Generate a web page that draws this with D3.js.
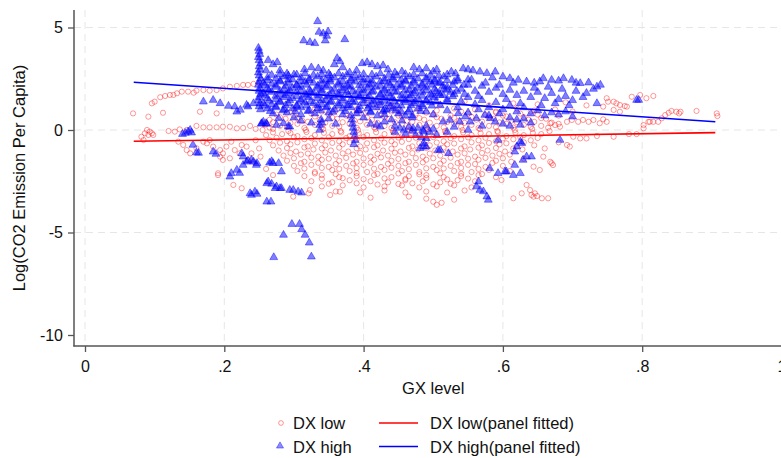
<!DOCTYPE html>
<html><head><meta charset="utf-8">
<script src="https://cdn.jsdelivr.net/npm/d3@7"></script>
<style>
body{margin:0;background:#fff}
svg{display:block}
text{font-family:"Liberation Sans",Arial,Helvetica,sans-serif}
</style>
</head><body>
<svg id="chart" width="781" height="458"></svg>
<script>
// ---------- axis ticks ----------
const xTicks=[0,0.2,0.4,0.6,0.8,1];
const xTickLabels=["0",".2",".4",".6",".8","1"];
const yTicks=[5,0,-5,-10];
const yTickLabels=["5","0","-5","-10"];
const xGrid=[0,0.2,0.4,0.6,0.8,1];
const yGrid=[5,0,-5];

// ---------- fitted lines ----------
const fitX=[0.07,0.905];
const lowFitY=[-0.55,-0.13];
const highFitY=[2.33,0.40];

// ---------- DX low (red circles) ----------
const lowLeft=[[0.069,0.81],[0.091,0.65],[0.112,0.84],[0.165,0.89],[0.189,0.81],
[0.096,1.3],[0.1,1.38],[0.108,1.6],[0.115,1.66],[0.122,1.71],[0.127,1.71],[0.132,1.79],[0.139,1.87],[0.148,1.87],[0.156,1.82],[0.16,1.92],[0.17,1.95],[0.179,1.92],[0.189,1.95],[0.198,2.03],[0.208,2.11],[0.218,2.15],[0.227,2.2],[0.234,2.2],[0.242,2.25],[0.25,2.3],
[0.089,0.0],[0.093,-0.08],[0.096,-0.16],[0.086,-0.16],[0.091,-0.24],[0.098,-0.24],[0.081,-0.33],[0.084,-0.49],
[0.12,-0.05],[0.129,-0.08],[0.136,0.03],[0.146,0.0],[0.16,0.2],[0.17,0.13],[0.179,0.13],[0.189,0.13],[0.198,0.16],[0.208,0.16],[0.218,0.08],[0.237,0.2],[0.227,0.1],[0.245,0.05],
[0.134,-0.57],[0.141,-0.73],[0.146,-0.98],[0.151,-1.14],[0.16,-0.89],[0.17,-0.57],[0.175,-0.65],[0.179,-0.49],[0.184,-0.81],[0.194,-0.98],[0.198,-1.14],[0.203,-0.81],[0.21,-0.57],[0.215,-0.98],[0.222,-1.14],[0.208,-1.38],[0.198,-1.46],[0.194,-1.3],[0.225,-0.73],[0.232,-0.81],[0.239,-1.14],[0.234,-1.46],[0.242,-1.55],[0.245,-0.5],[0.25,-0.9],[0.252,-1.3],
[0.191,-2.2],[0.225,-2.84],[0.191,-2.11],[0.213,-2.68],[0.299,-3.25],[0.321,-3.09],[0.366,-3.01],[0.323,-2.93],[0.352,-3.17],[0.26,-1.9],[0.27,-2.2]];

const lowMain=[
[0.405,1.3],[0.44,1.2],[0.47,1.35],[0.51,1.25],[0.545,1.4],[0.58,1.2],[0.615,1.3],[0.65,1.25],[0.69,1.35],[0.72,1.2],
[0.3,1.0],[0.33,1.05],[0.36,0.95],[0.39,1.0],[0.42,1.1],[0.45,0.95],[0.48,1.05],[0.505,0.95],[0.53,1.05],[0.56,1.0],[0.59,0.9],[0.62,1.05],[0.645,0.95],[0.675,1.0],[0.7,0.9],
[0.275,0.75],[0.3,0.7],[0.325,0.8],[0.35,0.75],[0.375,0.7],[0.4,0.8],[0.425,0.75],[0.45,0.7],[0.475,0.8],[0.5,0.75],[0.525,0.7],[0.55,0.8],[0.575,0.75],[0.6,0.7],[0.625,0.8],[0.65,0.75],[0.68,0.7],
[0.265,0.5],[0.288,0.55],[0.312,0.45],[0.337,0.5],[0.362,0.55],[0.387,0.45],[0.412,0.5],[0.437,0.55],[0.462,0.45],[0.487,0.5],[0.512,0.55],[0.537,0.45],[0.562,0.5],[0.587,0.55],[0.612,0.45],[0.637,0.5],[0.662,0.55],
[0.258,0.25],[0.28,0.2],[0.305,0.3],[0.33,0.25],[0.355,0.2],[0.38,0.3],[0.405,0.25],[0.43,0.2],[0.455,0.3],[0.48,0.25],[0.505,0.2],[0.53,0.3],[0.555,0.25],[0.58,0.2],[0.605,0.3],[0.63,0.25],[0.655,0.2],[0.68,0.3],
[0.255,0.0],[0.27,0.05],[0.292,-0.05],[0.317,0.0],[0.342,0.05],[0.367,-0.05],[0.392,0.0],[0.417,0.05],[0.442,-0.05],[0.467,0.0],[0.492,0.05],[0.517,-0.05],[0.542,0.0],[0.567,0.05],[0.592,-0.05],[0.617,0.0],[0.642,0.05],[0.667,-0.05],
[0.26,-0.25],[0.283,-0.2],[0.305,-0.3],[0.33,-0.25],[0.355,-0.2],[0.38,-0.3],[0.405,-0.25],[0.43,-0.2],[0.455,-0.3],[0.48,-0.25],[0.505,-0.2],[0.53,-0.3],[0.555,-0.25],[0.58,-0.2],[0.605,-0.3],[0.63,-0.25],[0.655,-0.2],
[0.265,-0.5],[0.29,-0.55],[0.315,-0.45],[0.34,-0.5],[0.365,-0.55],[0.39,-0.45],[0.415,-0.5],[0.44,-0.55],[0.465,-0.45],[0.49,-0.5],[0.515,-0.55],[0.54,-0.45],[0.565,-0.5],[0.59,-0.55],[0.615,-0.45],[0.64,-0.5],
[0.27,-0.75],[0.295,-0.7],[0.32,-0.8],[0.345,-0.75],[0.37,-0.7],[0.395,-0.8],[0.42,-0.75],[0.445,-0.7],[0.47,-0.8],[0.495,-0.75],[0.52,-0.7],[0.545,-0.8],[0.57,-0.75],[0.595,-0.7],[0.62,-0.8],[0.645,-0.75],
[0.278,-1.0],[0.303,-1.05],[0.328,-0.95],[0.353,-1.0],[0.378,-1.05],[0.403,-0.95],[0.428,-1.0],[0.453,-1.05],[0.478,-0.95],[0.503,-1.0],[0.528,-1.05],[0.553,-0.95],[0.578,-1.0],[0.603,-1.05],[0.628,-0.95],
[0.285,-1.25],[0.31,-1.2],[0.335,-1.3],[0.36,-1.25],[0.385,-1.2],[0.41,-1.3],[0.435,-1.25],[0.46,-1.2],[0.485,-1.3],[0.51,-1.25],[0.535,-1.2],[0.56,-1.3],[0.585,-1.25],[0.61,-1.2],
[0.29,-1.5],[0.315,-1.55],[0.34,-1.45],[0.365,-1.5],[0.39,-1.55],[0.415,-1.45],[0.44,-1.5],[0.465,-1.55],[0.49,-1.45],[0.515,-1.5],[0.54,-1.55],[0.565,-1.45],[0.59,-1.5],[0.612,-1.55],
[0.3,-1.75],[0.325,-1.7],[0.35,-1.8],[0.375,-1.75],[0.4,-1.7],[0.425,-1.8],[0.45,-1.75],[0.475,-1.7],[0.5,-1.8],[0.525,-1.75],[0.55,-1.7],[0.575,-1.8],[0.6,-1.75],
[0.305,-2.0],[0.33,-2.05],[0.355,-1.95],[0.38,-2.0],[0.405,-2.05],[0.43,-1.95],[0.455,-2.0],[0.48,-2.05],[0.505,-1.95],[0.53,-2.0],[0.555,-2.05],[0.58,-1.95],
[0.315,-2.25],[0.34,-2.2],[0.365,-2.3],[0.39,-2.25],[0.415,-2.2],[0.44,-2.3],[0.465,-2.25],[0.49,-2.2],[0.515,-2.3],[0.54,-2.25],[0.565,-2.2],[0.59,-2.3],
[0.325,-2.5],[0.355,-2.55],[0.38,-2.45],[0.41,-2.5],[0.435,-2.55],[0.46,-2.45],[0.485,-2.5],[0.51,-2.55],[0.535,-2.45],[0.56,-2.5],
[0.34,-2.75],[0.37,-2.7],[0.4,-2.8],[0.43,-2.75],[0.455,-2.7],[0.48,-2.8],[0.505,-2.75],[0.53,-2.7],[0.555,-2.8],
[0.36,-3.0],[0.395,-3.05],[0.43,-2.95],[0.46,-3.05],[0.49,-3.0],[0.52,-3.05],[0.545,-2.95],
[0.41,-3.3],[0.465,-3.25],[0.49,-3.35],[0.5,-3.5],[0.505,-3.65],[0.512,-3.55],[0.53,-3.4]];

const lowCore=[
[0.29,0.85],[0.34,0.9],[0.39,0.85],[0.44,0.9],[0.49,0.85],[0.54,0.9],[0.59,0.85],[0.64,0.9],
[0.28,0.62],[0.305,0.58],[0.33,0.66],[0.355,0.6],[0.38,0.64],[0.405,0.6],[0.43,0.62],[0.455,0.66],[0.48,0.58],[0.505,0.62],[0.53,0.6],[0.555,0.64],[0.58,0.6],[0.605,0.66],[0.63,0.62],[0.655,0.58],
[0.27,0.38],[0.295,0.34],[0.32,0.4],[0.345,0.36],[0.37,0.38],[0.395,0.42],[0.42,0.35],[0.445,0.38],[0.47,0.4],[0.495,0.36],[0.52,0.39],[0.545,0.35],[0.57,0.41],[0.595,0.37],[0.62,0.38],[0.645,0.4],[0.67,0.36],
[0.265,0.12],[0.29,0.15],[0.315,0.1],[0.34,0.13],[0.365,0.16],[0.39,0.11],[0.415,0.14],[0.44,0.1],[0.465,0.15],[0.49,0.12],[0.515,0.13],[0.54,0.16],[0.565,0.1],[0.59,0.14],[0.615,0.12],[0.64,0.15],[0.665,0.11],
[0.27,-0.12],[0.295,-0.15],[0.318,-0.1],[0.343,-0.14],[0.368,-0.12],[0.393,-0.16],[0.418,-0.11],[0.443,-0.13],[0.468,-0.15],[0.493,-0.1],[0.518,-0.14],[0.543,-0.12],[0.568,-0.16],[0.593,-0.11],[0.618,-0.13],[0.643,-0.15],
[0.275,-0.38],[0.3,-0.35],[0.325,-0.4],[0.35,-0.36],[0.375,-0.39],[0.4,-0.34],[0.425,-0.41],[0.45,-0.37],[0.475,-0.38],[0.5,-0.35],[0.525,-0.4],[0.55,-0.36],[0.575,-0.38],[0.6,-0.41],[0.625,-0.35],[0.65,-0.39],
[0.28,-0.62],[0.305,-0.6],[0.33,-0.66],[0.355,-0.63],[0.38,-0.6],[0.405,-0.65],[0.43,-0.62],[0.455,-0.58],[0.48,-0.64],[0.505,-0.61],[0.53,-0.66],[0.555,-0.6],[0.58,-0.63],[0.605,-0.65],[0.63,-0.6],
[0.29,-0.88],[0.315,-0.85],[0.34,-0.9],[0.365,-0.86],[0.39,-0.89],[0.415,-0.84],[0.44,-0.91],[0.465,-0.87],[0.49,-0.88],[0.515,-0.85],[0.54,-0.9],[0.565,-0.86],[0.59,-0.88],[0.615,-0.9],
[0.295,-1.12],[0.32,-1.15],[0.345,-1.1],[0.37,-1.14],[0.395,-1.12],[0.42,-1.16],[0.445,-1.11],[0.47,-1.13],[0.495,-1.15],[0.52,-1.1],[0.545,-1.14],[0.57,-1.12],[0.595,-1.16],
[0.3,-1.38],[0.325,-1.35],[0.35,-1.4],[0.375,-1.36],[0.4,-1.39],[0.425,-1.34],[0.45,-1.41],[0.475,-1.37],[0.5,-1.38],[0.525,-1.35],[0.55,-1.4],[0.575,-1.36],[0.6,-1.38],
[0.31,-1.62],[0.335,-1.6],[0.36,-1.66],[0.385,-1.63],[0.41,-1.6],[0.435,-1.65],[0.46,-1.62],[0.485,-1.58],[0.51,-1.64],[0.535,-1.61],[0.56,-1.66],[0.585,-1.6],
[0.315,-1.88],[0.34,-1.85],[0.365,-1.9],[0.39,-1.86],[0.415,-1.89],[0.44,-1.84],[0.465,-1.91],[0.49,-1.87],[0.515,-1.88],[0.54,-1.85],[0.565,-1.9],
[0.33,-2.12],[0.36,-2.15],[0.39,-2.1],[0.42,-2.14],[0.45,-2.12],[0.48,-2.16],[0.51,-2.11],[0.54,-2.13],[0.57,-2.15],
[0.34,-2.38],[0.37,-2.35],[0.4,-2.4],[0.43,-2.36],[0.46,-2.39],[0.49,-2.34],[0.52,-2.41],[0.55,-2.37],
[0.35,-2.62],[0.39,-2.6],[0.42,-2.66],[0.45,-2.63],[0.47,-2.6],[0.5,-2.65],[0.525,-2.62]];

const lowRight=[[0.749,1.55],[0.759,1.38],[0.768,1.22],[0.775,1.17],[0.785,1.62],[0.806,1.55],[0.816,1.66],[0.759,0.98],[0.768,0.89],[0.778,1.14],
[0.744,1.14],[0.751,1.38],[0.763,1.3],[0.797,1.71],[0.809,0.4],[0.802,0.24],[0.802,0.08],[0.811,0.4],[0.816,0.4],[0.823,0.4],[0.828,0.57],[0.833,0.73],[0.838,0.84],[0.842,0.93],[0.849,0.89],[0.853,0.81],[0.855,0.89],[0.878,0.93],[0.907,0.81],[0.908,0.68],[0.781,-0.2],[0.792,-0.2],
[0.668,0.33],[0.675,0.24],[0.682,0.16],[0.692,0.4],[0.699,0.49],[0.708,0.4],[0.715,0.49],[0.723,0.4],[0.73,0.49],[0.739,0.33],[0.744,0.52],[0.749,0.4],
[0.701,-0.33],[0.711,-0.41],[0.72,-0.41],[0.735,-0.29],[0.759,-0.33],[0.692,-0.73],[0.696,-0.81],[0.68,-0.6],
[0.644,-1.79],[0.658,-1.3],[0.668,-1.55],[0.67,-1.62],[0.672,-1.71],[0.653,-1.95],[0.634,-2.68],[0.639,-2.93],[0.641,-3.17],[0.644,-3.25],[0.646,-3.09],[0.649,-3.22],[0.656,-3.33],[0.665,-3.33],[0.615,-3.33],[0.627,-3.09],[0.598,-2.44],[0.61,-2.0],[0.63,-1.4],[0.66,-0.9]];

// ---------- DX high (blue triangles) ----------
const highColumn=[[0.249,4.0],[0.25,3.85],[0.251,3.7],[0.249,3.55],[0.25,3.4],[0.252,3.25],[0.25,3.1],[0.251,2.95],[0.249,2.8],[0.25,2.65],[0.252,2.5],[0.25,2.35],[0.249,2.2],[0.251,2.05],[0.25,1.9],[0.252,1.75],[0.25,1.6],[0.249,1.45],[0.251,1.3],[0.25,1.15],[0.252,1.0]];

const highTop=[[0.26,2.9],[0.263,3.4],[0.27,3.2],[0.276,3.3],[0.28,2.9],[0.29,2.75],[0.3,2.7],[0.315,2.95],[0.325,3.05],[0.335,3.0],[0.342,2.9],[0.35,2.75],[0.358,3.2],[0.362,3.5],[0.366,3.35],[0.37,3.05],[0.38,2.8],[0.39,2.9],[0.398,3.25],[0.405,3.3],[0.412,3.2],[0.42,3.1],[0.428,3.15],[0.435,2.95],[0.445,2.8],[0.455,2.85],[0.472,3.05],[0.48,2.95],[0.49,3.0],[0.5,2.85],[0.505,2.95],
[0.334,5.3],[0.336,4.78],[0.349,4.8],[0.342,4.7],[0.347,4.59],[0.314,4.36],[0.323,4.28],[0.33,4.23],[0.345,4.36],[0.373,4.42]];

const highBand=[
[0.262,2.55],[0.274,2.5],[0.286,2.6],[0.298,2.45],[0.31,2.55],[0.322,2.5],[0.334,2.6],[0.346,2.45],[0.358,2.55],[0.37,2.6],[0.382,2.5],[0.394,2.55],[0.406,2.45],[0.418,2.6],[0.43,2.5],[0.442,2.55],[0.454,2.45],[0.466,2.6],[0.478,2.5],[0.49,2.55],[0.502,2.45],
[0.256,2.3],[0.268,2.25],[0.28,2.35],[0.292,2.3],[0.304,2.2],[0.316,2.35],[0.328,2.3],[0.34,2.25],[0.352,2.35],[0.364,2.3],[0.376,2.2],[0.388,2.35],[0.4,2.3],[0.412,2.25],[0.424,2.35],[0.436,2.3],[0.448,2.2],[0.46,2.35],[0.472,2.3],[0.484,2.25],[0.496,2.35],[0.508,2.3],
[0.262,2.05],[0.274,2.1],[0.286,2.0],[0.298,2.05],[0.31,2.1],[0.322,1.95],[0.334,2.05],[0.346,2.1],[0.358,2.0],[0.37,2.05],[0.382,2.1],[0.394,1.95],[0.406,2.05],[0.418,2.1],[0.43,2.0],[0.442,2.05],[0.454,2.1],[0.466,1.95],[0.478,2.05],[0.49,2.1],[0.502,2.0],
[0.256,1.8],[0.268,1.85],[0.28,1.75],[0.292,1.8],[0.304,1.85],[0.316,1.75],[0.328,1.8],[0.34,1.85],[0.352,1.7],[0.364,1.8],[0.376,1.85],[0.388,1.75],[0.4,1.8],[0.412,1.85],[0.424,1.75],[0.436,1.8],[0.448,1.85],[0.46,1.7],[0.472,1.8],[0.484,1.85],[0.496,1.75],[0.508,1.8],
[0.262,1.55],[0.274,1.5],[0.286,1.6],[0.298,1.55],[0.31,1.5],[0.322,1.6],[0.334,1.55],[0.346,1.45],[0.358,1.6],[0.37,1.55],[0.382,1.5],[0.394,1.6],[0.406,1.55],[0.418,1.45],[0.43,1.6],[0.442,1.55],[0.454,1.5],[0.466,1.6],[0.478,1.55],[0.49,1.45],[0.502,1.6],
[0.256,1.3],[0.268,1.25],[0.28,1.35],[0.292,1.3],[0.304,1.2],[0.316,1.35],[0.328,1.3],[0.34,1.25],[0.352,1.35],[0.364,1.3],[0.376,1.2],[0.388,1.35],[0.4,1.3],[0.412,1.25],[0.424,1.35],[0.436,1.3],[0.448,1.2],[0.46,1.35],[0.472,1.3],[0.484,1.25],[0.496,1.35],
[0.262,1.05],[0.274,1.1],[0.286,1.0],[0.298,1.05],[0.31,1.1],[0.322,0.95],[0.334,1.05],[0.346,1.1],[0.358,1.0],[0.37,1.05],[0.382,1.1],[0.394,0.95],[0.406,1.05],[0.418,1.1],[0.43,1.0],[0.442,1.05],[0.454,0.9],[0.466,1.0],[0.478,1.05],[0.49,0.9],
[0.27,0.8],[0.29,0.85],[0.31,0.75],[0.33,0.8],[0.35,0.85],[0.37,0.75],[0.39,0.8],[0.41,0.85],[0.43,0.75],[0.45,0.8],[0.47,0.7],[0.5,0.75]];

const highBand2=[
[0.268,2.68],[0.28,2.72],[0.292,2.65],[0.304,2.7],[0.316,2.75],[0.328,2.68],[0.34,2.7],[0.352,2.65],[0.364,2.75],[0.376,2.7],[0.388,2.65],[0.4,2.72],[0.412,2.7],[0.424,2.75],[0.436,2.68],[0.448,2.65],[0.46,2.72],[0.472,2.7],[0.484,2.75],[0.496,2.68],[0.508,2.65],[0.52,2.7],[0.532,2.75],
[0.262,2.42],[0.28,2.4],[0.292,2.45],[0.31,2.38],[0.322,2.42],[0.34,2.4],[0.352,2.45],[0.37,2.38],[0.382,2.42],[0.4,2.45],[0.412,2.4],[0.43,2.38],[0.442,2.45],[0.46,2.42],[0.472,2.4],[0.49,2.45],[0.502,2.38],[0.52,2.42],[0.535,2.4],[0.55,2.45],
[0.258,2.18],[0.274,2.2],[0.288,2.15],[0.304,2.18],[0.318,2.2],[0.334,2.15],[0.348,2.18],[0.364,2.2],[0.378,2.15],[0.394,2.18],[0.408,2.2],[0.424,2.15],[0.438,2.18],[0.454,2.2],[0.468,2.15],[0.484,2.18],[0.498,2.2],[0.514,2.15],[0.528,2.18],[0.544,2.2],
[0.264,1.92],[0.28,1.9],[0.294,1.95],[0.31,1.92],[0.324,1.88],[0.34,1.95],[0.354,1.9],[0.37,1.92],[0.384,1.88],[0.4,1.95],[0.414,1.9],[0.43,1.92],[0.444,1.88],[0.46,1.95],[0.474,1.9],[0.49,1.92],[0.504,1.88],[0.52,1.95],[0.534,1.9],
[0.258,1.68],[0.274,1.66],[0.288,1.7],[0.304,1.65],[0.318,1.68],[0.334,1.7],[0.348,1.64],[0.364,1.68],[0.378,1.7],[0.394,1.66],[0.408,1.68],[0.424,1.7],[0.438,1.64],[0.454,1.68],[0.468,1.7],[0.484,1.66],[0.498,1.68],[0.514,1.7],[0.528,1.64],
[0.264,1.42],[0.28,1.4],[0.294,1.45],[0.31,1.42],[0.324,1.38],[0.34,1.45],[0.354,1.4],[0.37,1.42],[0.384,1.38],[0.4,1.45],[0.414,1.4],[0.43,1.42],[0.444,1.38],[0.46,1.45],[0.474,1.4],[0.49,1.42],[0.504,1.38],[0.52,1.4],
[0.258,1.18],[0.274,1.16],[0.288,1.2],[0.304,1.15],[0.318,1.18],[0.334,1.2],[0.348,1.14],[0.364,1.18],[0.378,1.2],[0.394,1.16],[0.408,1.18],[0.424,1.2],[0.438,1.14],[0.454,1.18],[0.468,1.2],[0.484,1.16],[0.498,1.18],
[0.266,0.92],[0.284,0.95],[0.302,0.9],[0.32,0.92],[0.338,0.95],[0.356,0.88],[0.374,0.92],[0.392,0.95],[0.41,0.9],[0.428,0.92],[0.446,0.95],[0.464,0.88],[0.482,0.92]];

const highRight=[[0.526,2.84],[0.543,3.0],[0.55,2.95],[0.557,2.9],[0.567,2.84],[0.577,2.77],[0.589,2.84],[0.6,2.6],[0.61,2.52],[0.622,2.44],[0.634,2.36],[0.645,2.3],[0.653,2.36],[0.658,2.52],[0.67,2.44],[0.68,2.4],[0.687,2.52],[0.699,2.44],[0.711,2.28],[0.723,2.31],[0.735,2.11],[0.74,2.2],[0.515,2.6],[0.535,2.5],[0.585,2.55],
[0.51,2.3],[0.52,2.1],[0.53,2.35],[0.54,2.0],[0.55,2.2],[0.56,1.9],[0.57,2.15],[0.58,1.85],[0.59,2.05],[0.6,1.75],[0.61,1.95],[0.62,1.7],[0.63,1.9],[0.64,1.6],[0.65,1.85],[0.66,1.55],[0.67,1.8],[0.68,1.5],[0.69,1.65],[0.7,1.45],[0.715,1.6],[0.735,1.3],
[0.51,1.7],[0.52,1.5],[0.53,1.75],[0.54,1.4],[0.55,1.6],[0.56,1.25],[0.57,1.45],[0.58,1.1],[0.59,1.35],[0.6,1.0],[0.61,1.2],[0.62,0.9],[0.63,1.1],[0.64,0.8],[0.65,0.95],[0.66,0.7],[0.67,0.85],[0.68,0.75],[0.69,0.9],[0.7,0.65],
[0.51,1.2],[0.52,0.95],[0.535,1.1],[0.55,0.85],[0.565,1.0],[0.58,0.7],[0.595,0.8],[0.61,0.6],[0.62,0.5],[0.63,0.55],[0.795,1.46],[0.792,1.46],
[0.515,2.0],[0.525,1.85],[0.545,1.75],[0.555,2.45],[0.565,1.65],[0.575,2.3],[0.595,2.2],[0.605,1.5],[0.615,2.3],[0.625,1.3],[0.645,2.05],[0.655,1.2],[0.665,2.1],[0.675,1.3],[0.685,2.0],[0.695,1.2],[0.705,1.9],[0.72,1.8],[0.73,2.0],[0.705,2.3]];

const highLow=[[0.4,0.6],[0.41,0.3],[0.419,0.24],[0.424,0.16],[0.433,0.98],[0.44,0.5],[0.445,0.2],[0.452,0.1],[0.458,0.0],[0.465,0.15],[0.47,-0.05],[0.478,0.1],[0.485,0.0],[0.49,0.2],[0.495,-0.1],[0.5,0.05],[0.46,-0.2],[0.475,-0.25],[0.483,-0.35],[0.445,-0.1],[0.505,-0.25],[0.49,-0.4],[0.486,-0.81],[0.481,-0.89],[0.507,-0.98],[0.514,0.4],[0.524,0.49],[0.536,0.81],[0.538,0.4],[0.546,0.65],[0.553,0.4],[0.562,0.57],[0.574,0.73],[0.582,0.57],[0.589,0.4],[0.55,0.0],[0.593,-0.49],[0.455,0.45],[0.47,0.6],[0.43,0.4],[0.42,0.7],[0.46,0.7],[0.6,0.3],[0.61,0.2],[0.625,0.25],[0.64,0.35],[0.57,0.2],[0.53,0.15],[0.52,-0.1],[0.471,0.08],[0.486,-0.08],[0.486,-0.65],[0.49,-0.81],[0.51,-0.98],[0.522,-1.14],
[0.383,0.5],[0.384,0.3],[0.385,0.1],[0.386,-0.1],[0.387,-0.3],[0.388,-0.5],[0.386,-0.7],[0.382,0.7],
[0.256,0.4],[0.253,0.3],[0.26,0.33],[0.254,0.33],[0.261,0.29],[0.275,0.24],[0.278,0.57],[0.285,0.33],[0.292,0.16],[0.294,0.16],[0.337,0.24],[0.337,0.0],[0.34,0.35],[0.339,0.5],[0.325,0.35],[0.3,0.6],[0.31,0.45],[0.35,0.55],[0.36,0.3],
[0.17,1.38],[0.184,1.46],[0.194,1.3],[0.206,1.17],[0.215,1.14],[0.223,0.98],[0.218,0.89],[0.232,1.22],[0.242,1.3],[0.234,1.14],
[0.144,-0.15],[0.151,0.0],[0.153,-0.13],[0.14,-0.2],[0.148,-0.08],[0.155,-0.73],[0.16,-1.1],[0.163,-1.12],[0.184,-1.06],[0.188,-1.17]];

const highBottom=[[0.21,-2.11],[0.208,-2.28],[0.218,-1.95],[0.227,-1.71],[0.222,-2.1],[0.239,-1.46],[0.247,-1.62],[0.234,-1.5],[0.237,-3.09],[0.244,-3.01],[0.247,-3.12],[0.261,-3.5],[0.267,-3.5],[0.261,-2.6],[0.263,-2.52],[0.268,-2.63],[0.275,-2.76],[0.282,-2.84],[0.265,-1.6],[0.268,-1.53],[0.27,-1.62],[0.278,-1.62],[0.282,-2.03],[0.299,-2.93],[0.306,-3.01],[0.311,-3.06],[0.225,-1.14],[0.227,-1.3],[0.232,-1.55],[0.242,-1.55],[0.246,-1.71],[0.273,-2.84],[0.28,-2.84],[0.294,-2.93],[0.239,-3.17],
[0.581,-1.87],[0.593,-2.11],[0.603,-2.03],[0.615,-2.2],[0.617,-1.71],[0.625,-2.11],[0.627,-0.65],[0.62,-0.81],[0.634,-1.3],[0.629,-1.46],[0.641,-1.3],[0.562,-2.76],[0.567,-2.93],[0.572,-3.0],[0.577,-3.25],[0.579,-3.41],[0.565,-2.52],[0.682,-0.49],[0.625,-0.57],[0.617,-1.06],[0.605,-2.03],
[0.297,-4.59],[0.308,-4.59],[0.311,-4.85],[0.316,-5.12],[0.285,-5.12],[0.322,-5.5],[0.271,-6.21],[0.325,-6.18]];

// ---------- drawing ----------
const svg=d3.select("#chart");
const x=d3.scaleLinear().domain([0,1]).range([85,781.5]);
const y=d3.scaleLinear().domain([-10,5]).range([335,27.5]);
const L=74,R=781,T=10,B=346;

const grid=svg.append("g").attr("stroke","#e6e6e6").attr("stroke-width",1).attr("stroke-dasharray","7,5");
grid.selectAll(".gx").data(xGrid).join("line").attr("x1",d=>x(d)).attr("x2",d=>x(d)).attr("y1",T).attr("y2",B);
grid.selectAll(".gy").data(yGrid).join("line").attr("x1",L).attr("x2",R).attr("y1",d=>y(d)).attr("y2",d=>y(d));

svg.append("clipPath").attr("id","clip").append("rect").attr("x",L).attr("y",T).attr("width",R-L).attr("height",B-T);
const plot=svg.append("g").attr("clip-path","url(#clip)");

const low=lowLeft.concat(lowMain,lowCore,lowRight);
plot.append("g").selectAll("circle").data(low).join("circle")
  .attr("cx",d=>x(d[0])).attr("cy",d=>y(d[1])).attr("r",2.6)
  .attr("fill","none").attr("stroke","#ff0000").attr("stroke-opacity",0.4).attr("stroke-width",1);

const high=highColumn.concat(highTop,highBand,highBand2,highRight,highLow,highBottom);
const tri=d3.symbol().type(d3.symbolTriangle).size(27);
plot.append("g").selectAll("path").data(high).join("path")
  .attr("d",tri).attr("transform",d=>`translate(${x(d[0])},${y(d[1])})`)
  .attr("fill","#0000ff").attr("fill-opacity",0.5).attr("stroke","#0000ff").attr("stroke-opacity",0.55).attr("stroke-width",0.8);

const line=d3.line().x(d=>x(d[0])).y(d=>y(d[1]));
plot.append("path").datum(fitX.map((v,i)=>[v,lowFitY[i]])).attr("d",line).attr("fill","none").attr("stroke","#ff0000").attr("stroke-width",1.6);
plot.append("path").datum(fitX.map((v,i)=>[v,highFitY[i]])).attr("d",line).attr("fill","none").attr("stroke","#0000ff").attr("stroke-width",1.6);

const yAxis=d3.axisLeft(y).tickValues(yTicks).tickFormat((d,i)=>yTickLabels[i]).tickSize(6).tickPadding(5);
const gy=svg.append("g").attr("transform",`translate(${L},0)`).call(yAxis);
gy.select(".domain").remove();
const xAxis=d3.axisBottom(x).tickValues(xTicks).tickFormat((d,i)=>xTickLabels[i]).tickSize(6).tickPadding(9);
const gx=svg.append("g").attr("transform",`translate(0,${B})`).call(xAxis);
gx.select(".domain").remove();
[gx,gy].forEach(g=>{
  g.selectAll("line").attr("stroke","#555").attr("stroke-width",1.3);
  g.selectAll("text").attr("font-size",16).attr("fill","#111").style("font-family","'Liberation Sans',Arial,sans-serif");
});
svg.append("line").attr("x1",L).attr("x2",L).attr("y1",T).attr("y2",B+0.6).attr("stroke","#555").attr("stroke-width",1.5);
svg.append("line").attr("x1",L-0.6).attr("x2",R).attr("y1",B).attr("y2",B).attr("stroke","#555").attr("stroke-width",1.5);

svg.append("text").attr("x",x(0.5)).attr("y",394).attr("text-anchor","middle").attr("font-size",16.5).attr("fill","#111").text("GX level");
svg.append("text").attr("transform","translate(25,178) rotate(-90)").attr("text-anchor","middle").attr("font-size",16.5).attr("fill","#111").text("Log(CO2 Emission Per Capita)");

const lg=svg.append("g");
lg.append("circle").attr("cx",281).attr("cy",423).attr("r",2.4).attr("fill","none").attr("stroke","#ff0000").attr("stroke-opacity",0.4);
lg.append("path").attr("d",d3.symbol().type(d3.symbolTriangle).size(22)).attr("transform","translate(280,446)").attr("fill","#0000ff").attr("fill-opacity",0.45).attr("stroke","#0000ff").attr("stroke-opacity",0.5).attr("stroke-width",0.8);
lg.append("line").attr("x1",379).attr("x2",418).attr("y1",423).attr("y2",423).attr("stroke","#ff0000").attr("stroke-width",1.6);
lg.append("line").attr("x1",379).attr("x2",418).attr("y1",446.5).attr("y2",446.5).attr("stroke","#0000ff").attr("stroke-width",1.6);
const legText=[["DX low",293,429],["DX high",293,452.5],["DX low(panel fitted)",430,429],["DX high(panel fitted)",430,452.5]];
lg.selectAll("text").data(legText).join("text").attr("x",d=>d[1]).attr("y",d=>d[2]).attr("font-size",16.5).attr("fill","#111").text(d=>d[0]);
</script>
</body></html>
